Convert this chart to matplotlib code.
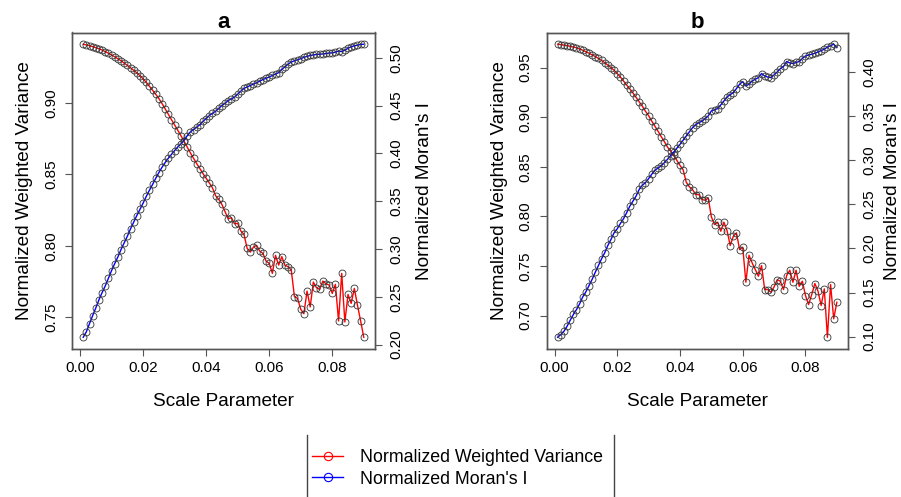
# two panel plot of weighted variance / moran's I vs scale parameter

import numpy as np
import matplotlib.pyplot as plt
from matplotlib.lines import Line2D

plt.rcParams['font.family'] = ['Liberation Sans', 'DejaVu Sans']

# scale parameter 0.001 .. 0.090
scale = np.arange(1, 91) / 1000.0

# panel a
var_a = [0.9410, 0.9405, 0.9400, 0.9393, 0.9386, 0.9378, 0.9369, 0.9358, 0.9347, 0.9335,
         0.9322, 0.9308, 0.9294, 0.9278, 0.9262, 0.9245, 0.9228, 0.9210, 0.9190, 0.9168,
         0.9143, 0.9116, 0.9088, 0.9060, 0.9030, 0.8995, 0.8958, 0.8920, 0.8882, 0.8845,
         0.8808, 0.8770, 0.8730, 0.8690, 0.8650, 0.8612, 0.8575, 0.8540, 0.8505, 0.8472,
         0.8440, 0.8405, 0.8350, 0.8325, 0.8289, 0.8238, 0.8189, 0.8196, 0.8154, 0.8157,
         0.8103, 0.8080, 0.7982, 0.7956, 0.7991, 0.8003, 0.7963, 0.7947, 0.7893, 0.7877,
         0.7807, 0.7933, 0.7865, 0.7924, 0.7863, 0.7854, 0.7830, 0.7644, 0.7632, 0.7556,
         0.7525, 0.7683, 0.7572, 0.7746, 0.7707, 0.7695, 0.7753, 0.7735, 0.7725, 0.7667,
         0.7730, 0.7474, 0.7807, 0.7467, 0.7660, 0.7597, 0.7702, 0.7584, 0.7474, 0.7360]
moran_a = [0.2077, 0.2135, 0.2220, 0.2304, 0.2385, 0.2470, 0.2545, 0.2615, 0.2695, 0.2775,
           0.2848, 0.2918, 0.2995, 0.3065, 0.3134, 0.3211, 0.3280, 0.3350, 0.3415, 0.3480,
           0.3550, 0.3615, 0.3675, 0.3740, 0.3800, 0.3855, 0.3905, 0.3950, 0.3990, 0.4030,
           0.4068, 0.4100, 0.4135, 0.4185, 0.4225, 0.4250, 0.4275, 0.4300, 0.4335, 0.4365,
           0.4396, 0.4420, 0.4441, 0.4470, 0.4501, 0.4525, 0.4553, 0.4570, 0.4588, 0.4620,
           0.4651, 0.4680, 0.4695, 0.4710, 0.4725, 0.4740, 0.4755, 0.4773, 0.4785, 0.4800,
           0.4815, 0.4830, 0.4845, 0.4880, 0.4905, 0.4935, 0.4955, 0.4970, 0.4980, 0.4990,
           0.5005, 0.5015, 0.5025, 0.5030, 0.5035, 0.5038, 0.5040, 0.5045, 0.5050, 0.5052,
           0.5060, 0.5070, 0.5065, 0.5080, 0.5100, 0.5115, 0.5125, 0.5132, 0.5140, 0.5142]

# panel b
var_b = [0.9736, 0.9732, 0.9727, 0.9722, 0.9715, 0.9708, 0.9700, 0.9688, 0.9675, 0.9660,
         0.9645, 0.9628, 0.9612, 0.9593, 0.9572, 0.9550, 0.9525, 0.9500, 0.9472, 0.9440,
         0.9405, 0.9365, 0.9325, 0.9285, 0.9245, 0.9200, 0.9155, 0.9111, 0.9060, 0.9015,
         0.8960, 0.8910, 0.8859, 0.8805, 0.8755, 0.8700, 0.8660, 0.8615, 0.8565, 0.8515,
         0.8470, 0.8345, 0.8298, 0.8271, 0.8221, 0.8221, 0.8170, 0.8163, 0.8187, 0.7996,
         0.7918, 0.7942, 0.7851, 0.7942, 0.7858, 0.7707, 0.7800, 0.7835, 0.7666, 0.7690,
         0.7337, 0.7609, 0.7532, 0.7465, 0.7397, 0.7505, 0.7263, 0.7263, 0.7236, 0.7290,
         0.7363, 0.7347, 0.7263, 0.7404, 0.7458, 0.7337, 0.7458, 0.7296, 0.7347, 0.7203,
         0.7112, 0.7213, 0.7324, 0.7246, 0.7102, 0.7270, 0.6782, 0.7314, 0.6968, 0.7135]
moran_b = [0.0993, 0.1024, 0.1061, 0.1118, 0.1186, 0.1251, 0.1307, 0.1372, 0.1451, 0.1508,
           0.1579, 0.1650, 0.1730, 0.1806, 0.1882, 0.1950, 0.2033, 0.2101, 0.2177, 0.2222,
           0.2282, 0.2336, 0.2404, 0.2478, 0.2535, 0.2592, 0.2668, 0.2715, 0.2745, 0.2790,
           0.2840, 0.2885, 0.2910, 0.2935, 0.2970, 0.3008, 0.3050, 0.3091, 0.3135, 0.3178,
           0.3225, 0.3272, 0.3320, 0.3367, 0.3400, 0.3424, 0.3440, 0.3469, 0.3500, 0.3556,
           0.3570, 0.3583, 0.3625, 0.3669, 0.3715, 0.3740, 0.3764, 0.3810, 0.3858, 0.3889,
           0.3839, 0.3860, 0.3896, 0.3915, 0.3934, 0.3980, 0.3952, 0.3940, 0.3934, 0.3965,
           0.3998, 0.4036, 0.4060, 0.4116, 0.4100, 0.4093, 0.4105, 0.4116, 0.4150, 0.4179,
           0.4190, 0.4198, 0.4210, 0.4224, 0.4240, 0.4255, 0.4280, 0.4295, 0.4312, 0.4274]

x_ticks = [0.00, 0.02, 0.04, 0.06, 0.08]
var_ticks_a = [0.75, 0.80, 0.85, 0.90]
moran_ticks_a = [0.20, 0.25, 0.30, 0.35, 0.40, 0.45, 0.50]
var_ticks_b = [0.70, 0.75, 0.80, 0.85, 0.90, 0.95]
moran_ticks_b = [0.10, 0.15, 0.20, 0.25, 0.30, 0.35, 0.40]

var_label = 'Normalized Weighted Variance'
moran_label = "Normalized Moran's I"

W, H = 901, 497
box_col = '#555555'
pt_col = '#333333'
tick_fs = 11
lab_fs = 13.7


def style(ax):
    for s in ax.spines.values():
        s.set_color(box_col)
        s.set_linewidth(1)
    ax.tick_params(axis='both', direction='out', length=5, width=0.8,
                   color=box_col, labelsize=tick_fs)
    ax.tick_params(axis='x', pad=3.5)
    ax.tick_params(axis='y', labelrotation=90, pad=5)
    for t in ax.get_yticklabels():
        t.set_va('center')


def panel(left_px, right_px, title, var, moran, vt, mt, moran_lab_x):
    top_px, bot_px = 32.5, 349
    ax = fig.add_axes([left_px / W, 1 - bot_px / H,
                       (right_px - left_px) / W, (bot_px - top_px) / H])
    ax.plot(scale, var, color='red', lw=1, marker='o', ms=5,
            mfc='none', mec=pt_col, mew=0.6)
    ax.margins(x=0.04, y=0.04)
    ax.set_xticks(x_ticks)
    ax.set_xticklabels(['%.2f' % v for v in x_ticks])
    ax.set_yticks(vt)
    ax.set_yticklabels(['%.2f' % v for v in vt])
    ax.set_xlabel('Scale Parameter', fontsize=lab_fs, va='baseline')
    ax.xaxis.set_label_coords(0.5, -0.180)
    ax.set_ylabel(var_label, fontsize=lab_fs, va='center')
    ax.yaxis.set_label_coords(-0.156, 0.5)
    ax.set_title(title, fontsize=16, fontweight='bold', pad=3.2)
    style(ax)

    ax2 = ax.twinx()
    ax2.plot(scale, moran, color='blue', lw=1, marker='o', ms=5,
             mfc='none', mec=pt_col, mew=0.6)
    ax2.margins(x=0.04, y=0.04)
    ax2.set_yticks(mt)
    ax2.set_yticklabels(['%.2f' % v for v in mt])
    ax2.set_ylabel(moran_label, fontsize=lab_fs, va='center', rotation=90)
    ax2.yaxis.set_label_coords(moran_lab_x, 0.5)
    style(ax2)
    return ax, ax2


fig = plt.figure(figsize=(W / 100, H / 100), dpi=100)

panel(72, 375, 'a', var_a, moran_a, var_ticks_a, moran_ticks_a, 1.162)
panel(546.5, 848, 'b', var_b, moran_b, var_ticks_b, moran_ticks_b, 1.148)

# legend at the bottom
handles = [Line2D([], [], color='red', lw=1, marker='o', ms=6, mfc='none', mec='red', mew=0.8),
           Line2D([], [], color='blue', lw=1, marker='o', ms=6, mfc='none', mec='blue', mew=0.8)]
fig.legend(handles, [var_label, moran_label], loc='center left',
           bbox_to_anchor=(311.7 / W, 1 - 468.3 / H), frameon=False,
           fontsize=12.8, handlelength=1.78, handletextpad=0.94,
           borderpad=0, borderaxespad=0, labelspacing=0.25)
for xp in [307, 614]:
    fig.add_artist(Line2D([xp / W, xp / W], [0, 1 - 435 / H], color='#444444', lw=1))

fig.savefig('out.png', dpi=100)
